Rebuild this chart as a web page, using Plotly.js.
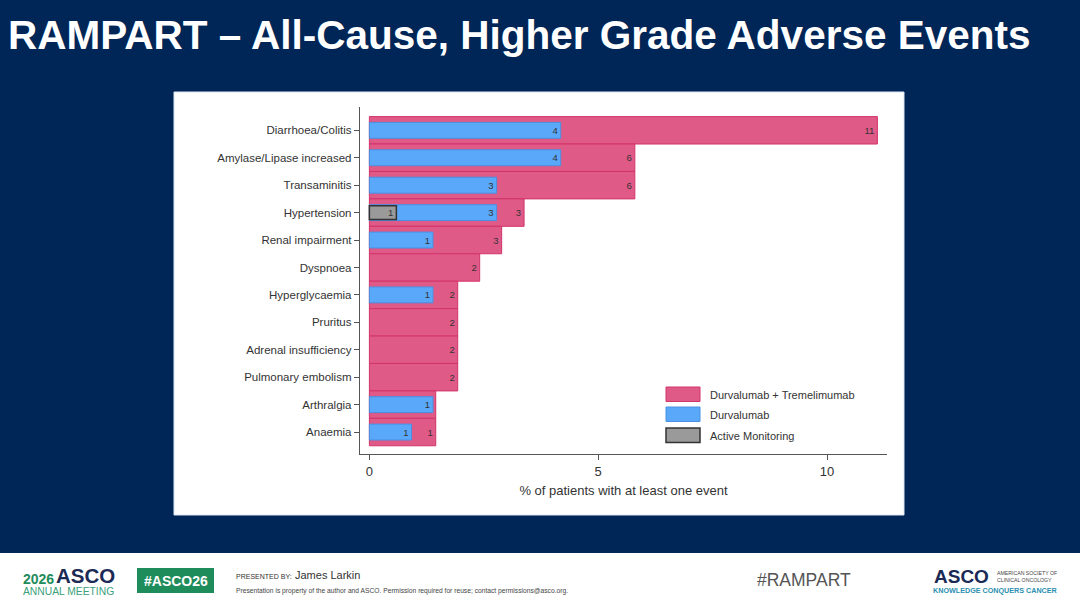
<!DOCTYPE html>
<html>
<head>
<meta charset="utf-8">
<script src="https://cdn.plot.ly/plotly-3.0.1.min.js"></script>
<style>
html,body{margin:0;padding:0;background:#002657;}
#chart{width:1080px;height:608px;}
</style>
</head>
<body>
<div id="chart"></div>
<script>
// ---- data (percent of patients) ----
const categories = ["Diarrhoea/Colitis","Amylase/Lipase increased","Transaminitis","Hypertension","Renal impairment","Dyspnoea","Hyperglycaemia","Pruritus","Adrenal insufficiency","Pulmonary embolism","Arthralgia","Anaemia"];
const seriesNames = ["Durvalumab + Tremelimumab","Durvalumab","Active Monitoring"];
const durvaTremeValues = [11.1, 5.8, 5.8, 3.38, 2.89, 2.41, 1.93, 1.93, 1.93, 1.93, 1.45, 1.45];
// Arthralgia label of this series is hidden behind the Durvalumab bar in the reference
const durvaTremeLabels = ["11","6","6","3","3","2","2","2","2","2","","1"];
const durvaValues = [4.18, 4.18, 2.78, 2.78, 1.39, null, 1.39, null, null, null, 1.39, 0.92];
const durvaLabels = ["4","4","3","3","1","","1","","","","1","1"];
const activeValues = [null, null, null, 0.59, null, null, null, null, null, null, null, null];
const activeLabels = ["","","","1","","","","","","","",""];
const xTickVals = [0, 5, 10];

// ---- layout geometry ----
const W = 1080, H = 608;
const M = {l:360, r:193, t:107, b:154};
const PW = W - M.l - M.r, PH = H - M.t - M.b;
const px = x => (x - M.l) / PW;
const py = y => (H - M.b - y) / PH;

const FONT = "Liberation Sans, Arial, sans-serif";
const colors = {
  pink: "#e05a88", pinkLine: "#d2336b",
  blue: "#5aa8fa", blueLine: "#4a8fe0",
  grey: "#9a9a9a", greyLine: "#333333"
};

const textFont = {family: FONT, size: 9.5, color: "#333"};

const traces = [
  {
    type: "bar", orientation: "h", name: seriesNames[0],
    y: categories, x: durvaTremeValues, text: durvaTremeLabels,
    width: 1.0,
    marker: {color: colors.pink, line: {color: colors.pinkLine, width: 1}},
    textposition: "inside", insidetextanchor: "end", textangle: 0, textfont: textFont,
    constraintext: "none", hoverinfo: "x+y"
  },
  {
    type: "bar", orientation: "h", name: seriesNames[1],
    y: categories, x: durvaValues, text: durvaLabels,
    width: 0.58,
    marker: {color: colors.blue, line: {color: colors.blueLine, width: 1}},
    textposition: "inside", insidetextanchor: "end", textangle: 0, textfont: textFont,
    constraintext: "none", hoverinfo: "x+y"
  },
  {
    type: "bar", orientation: "h", name: seriesNames[2],
    y: categories, x: activeValues, text: activeLabels,
    width: 0.5,
    marker: {color: colors.grey, line: {color: colors.greyLine, width: 1.5}},
    textposition: "inside", insidetextanchor: "end", textangle: 0, textfont: textFont,
    constraintext: "none", hoverinfo: "x+y"
  }
];

const shapes = [
  // white chart panel
  {type:"rect", xref:"paper", yref:"paper", x0:px(174), x1:px(904), y0:py(515), y1:py(92),
   fillcolor:"#ffffff", line:{color:"#dce6f2", width:1}, layer:"below"},
  // white footer band
  {type:"rect", xref:"paper", yref:"paper", x0:px(0), x1:px(1080), y0:py(608), y1:py(553),
   fillcolor:"#ffffff", line:{width:0}, layer:"below"},
  // green #ASCO26 box
  {type:"rect", xref:"paper", yref:"paper", x0:px(137), x1:px(214), y0:py(593), y1:py(568),
   fillcolor:"#1f8c5c", line:{width:0}, layer:"above"}
];

// custom legend (swatches + labels)
const legendColors = [[colors.pink, colors.pinkLine, 1], [colors.blue, colors.blueLine, 1], [colors.grey, colors.greyLine, 1.5]];
const legendTops = [387, 407, 428];
const annotations = [];
legendTops.forEach((t, i) => {
  shapes.push({type:"rect", xref:"paper", yref:"paper", x0:px(666), x1:px(700), y0:py(t+14.5), y1:py(t),
    fillcolor:legendColors[i][0], line:{color:legendColors[i][1], width:legendColors[i][2]}});
  annotations.push({xref:"paper", yref:"paper", x:px(708), y:py(t+7.5), xanchor:"left", yanchor:"middle",
    text:seriesNames[i], showarrow:false, font:{family:FONT, size:11, color:"#333"}});
});

// slide title and footer texts
annotations.push(
  {xref:"paper", yref:"paper", x:px(6), y:py(35), xanchor:"left", yanchor:"middle",
   text:"<b>RAMPART – All-Cause, Higher Grade Adverse Events</b>", showarrow:false,
   font:{family:FONT, size:40.5, color:"#ffffff"}},
  {xref:"paper", yref:"paper", x:px(21), y:py(578.5), xanchor:"left", yanchor:"middle",
   text:"<b>2026</b>", showarrow:false, font:{family:FONT, size:14, color:"#1f8c5c"}},
  {xref:"paper", yref:"paper", x:px(54), y:py(575.5), xanchor:"left", yanchor:"middle",
   text:"<b>ASCO</b>", showarrow:false, font:{family:FONT, size:20.5, color:"#1b2a55"}},
  {xref:"paper", yref:"paper", x:px(21), y:py(591.5), xanchor:"left", yanchor:"middle",
   text:"ANNUAL MEETING", showarrow:false, font:{family:FONT, size:10.3, color:"#3aa07a"}},
  {xref:"paper", yref:"paper", x:px(175.5), y:py(580.5), xanchor:"center", yanchor:"middle",
   text:"<b>#ASCO26</b>", showarrow:false, font:{family:FONT, size:14, color:"#ffffff"}},
  {xref:"paper", yref:"paper", x:px(234), y:py(576), xanchor:"left", yanchor:"middle",
   text:"PRESENTED BY:", showarrow:false, font:{family:FONT, size:7, color:"#333"}},
  {xref:"paper", yref:"paper", x:px(293), y:py(575), xanchor:"left", yanchor:"middle",
   text:"James Larkin", showarrow:false, font:{family:FONT, size:11, color:"#333"}},
  {xref:"paper", yref:"paper", x:px(234), y:py(591), xanchor:"left", yanchor:"middle",
   text:"Presentation is property of the author and ASCO. Permission required for reuse; contact permissions@asco.org.", showarrow:false, font:{family:FONT, size:6.7, color:"#444"}},
  {xref:"paper", yref:"paper", x:px(755), y:py(580), xanchor:"left", yanchor:"middle",
   text:"#RAMPART", showarrow:false, font:{family:FONT, size:17.5, color:"#555"}},
  {xref:"paper", yref:"paper", x:px(932), y:py(576), xanchor:"left", yanchor:"middle",
   text:"<b>ASCO</b>", showarrow:false, font:{family:FONT, size:19, color:"#1b2a55"}},
  {xref:"paper", yref:"paper", x:px(995), y:py(576), xanchor:"left", yanchor:"middle",
   text:"AMERICAN SOCIETY OF<br>CLINICAL ONCOLOGY", showarrow:false, align:"left",
   font:{family:FONT, size:5.2, color:"#444"}},
  {xref:"paper", yref:"paper", x:px(931), y:py(590.5), xanchor:"left", yanchor:"middle",
   text:"<b>KNOWLEDGE CONQUERS CANCER</b>", showarrow:false, font:{family:FONT, size:7.2, color:"#2a8fb0"}}
);

const layout = {
  width: W, height: H,
  margin: M,
  paper_bgcolor: "#002657",
  plot_bgcolor: "#ffffff",
  barmode: "overlay",
  showlegend: false,
  font: {family: FONT, color: "#333"},
  xaxis: {
    range: [-0.205, 11.31],
    tickvals: xTickVals, ticktext: xTickVals.map(String),
    ticks: "outside", ticklen: 5, tickwidth: 1, tickcolor: "#555",
    showline: true, linecolor: "#555", linewidth: 1.2,
    showgrid: false, zeroline: false,
    tickfont: {family: FONT, size: 13, color: "#333"},
    title: {text: "% of patients with at least one event", font: {family: FONT, size: 13, color: "#333"}, standoff: 8}
  },
  yaxis: {
    type: "category", categoryorder: "array", categoryarray: categories,
    range: [11.8, -0.85],
    ticks: "outside", ticklen: 5, tickwidth: 1, tickcolor: "#555",
    showline: true, linecolor: "#555", linewidth: 1.2,
    showgrid: false, zeroline: false,
    tickfont: {family: FONT, size: 11.5, color: "#333"}
  },
  shapes: shapes,
  annotations: annotations
};

Plotly.newPlot("chart", traces, layout, {displayModeBar: false, staticPlot: true});
</script>
</body>
</html>
